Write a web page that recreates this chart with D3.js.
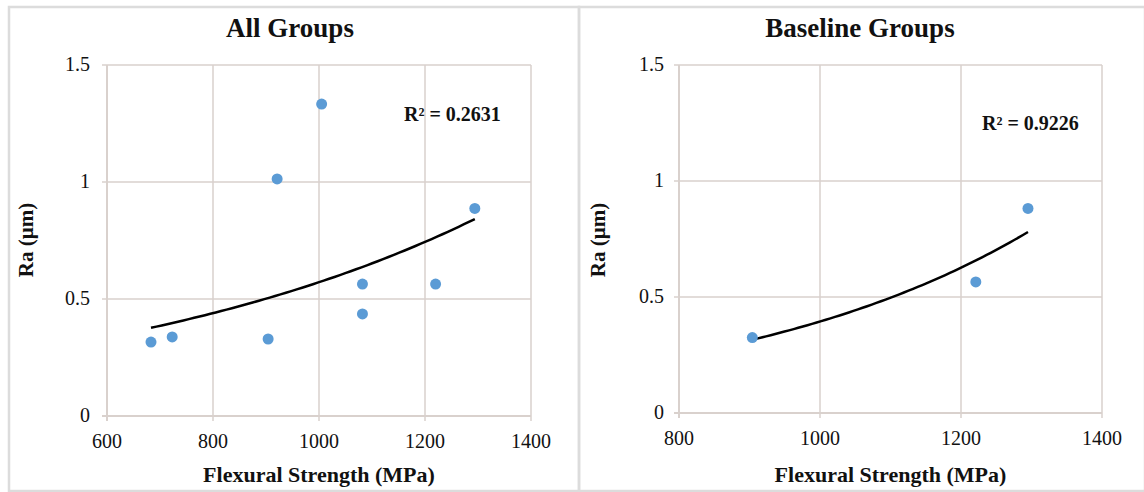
<!DOCTYPE html>
<html>
<head>
<meta charset="utf-8">
<script src="https://cdn.jsdelivr.net/npm/d3@7"></script>
<style>
    body { margin: 0; background: #fff; }
    svg text { font-family: "Liberation Serif", "Times New Roman", serif; fill: #111; }
</style>
</head>
<body>
<div id="chart"></div>
<script>
// Flexural strength (MPa) vs Ra (um), all groups
var allStrength = [683, 723, 904, 921, 1005, 1082, 1082, 1220, 1294];
var allRa = [0.316, 0.338, 0.329, 1.013, 1.333, 0.564, 0.436, 0.564, 0.887];

// baseline groups only
var baseStrength = [904, 1221, 1295];
var baseRa = [0.325, 0.565, 0.882];

var titles = ["All Groups", "Baseline Groups"];
var r2Labels = ["R\u00b2 = 0.2631", "R\u00b2 = 0.9226"];
var allXTicks = [600, 800, 1000, 1200, 1400];
var baseXTicks = [800, 1000, 1200, 1400];
var yTicks = [0, 0.5, 1, 1.5];

var width = 1144, height = 492;
var gridColor = "#d9d1cd";
var dotColor = "#5b9bd5";

var svg = d3.select("#chart").append("svg")
    .attr("width", width).attr("height", height);

// outer frames
svg.append("rect").attr("x", 9).attr("y", 7).attr("width", 570).attr("height", 484)
    .attr("fill", "none").attr("stroke", "#dcdcdc").attr("stroke-width", 2.5);
svg.append("rect").attr("x", 579).attr("y", 7).attr("width", 566).attr("height", 484)
    .attr("fill", "none").attr("stroke", "#dcdcdc").attr("stroke-width", 2.5);

var panels = [
    {xs: allStrength, ys: allRa, xTicks: allXTicks, xDomain: [600, 1400], xRange: [107, 531],
     yRange: [416, 65], titleX: 290, yLabelX: 26, tickRight: 90, r2X: 404, r2Y: 121},
    {xs: baseStrength, ys: baseRa, xTicks: baseXTicks, xDomain: [800, 1400], xRange: [679, 1102],
     yRange: [413, 65], titleX: 860, yLabelX: 598, tickRight: 664, r2X: 982, r2Y: 130}
];

// Excel style exponential trendline: least squares on ln(y)
function expFit(xs, ys) {
    var ly = ys.map(function (v) { return Math.log(v); });
    var mx = d3.mean(xs), my = d3.mean(ly);
    var sxy = d3.sum(xs, function (v, i) { return (v - mx) * (ly[i] - my); });
    var sxx = d3.sum(xs, function (v) { return (v - mx) * (v - mx); });
    var b = sxy / sxx;
    var a = Math.exp(my - b * mx);
    return function (x) { return a * Math.exp(b * x); };
}

panels.forEach(function (p, idx) {
    var x = d3.scaleLinear().domain(p.xDomain).range(p.xRange);
    var y = d3.scaleLinear().domain([0, 1.5]).range(p.yRange);
    var g = svg.append("g");

    // gridlines
    g.selectAll("line.vgrid").data(p.xTicks).enter().append("line")
        .attr("x1", function (d) { return x(d); }).attr("x2", function (d) { return x(d); })
        .attr("y1", y(1.5)).attr("y2", y(0) + 5)
        .attr("stroke", gridColor).attr("stroke-width", function (d, i) { return i === 0 ? 2 : 1.5; });
    g.selectAll("line.hgrid").data(yTicks).enter().append("line")
        .attr("x1", x.range()[0] - 5).attr("x2", x.range()[1])
        .attr("y1", function (d) { return y(d); }).attr("y2", function (d) { return y(d); })
        .attr("stroke", gridColor).attr("stroke-width", function (d, i) { return i === 0 ? 2 : 1.5; });

    // tick labels
    g.selectAll("text.xt").data(p.xTicks).enter().append("text")
        .attr("x", function (d) { return x(d); }).attr("y", y(0) + 32)
        .attr("text-anchor", "middle").attr("font-size", 20)
        .text(function (d) { return d; });
    g.selectAll("text.yt").data(yTicks).enter().append("text")
        .attr("x", p.tickRight).attr("y", function (d) { return y(d) + 6; })
        .attr("text-anchor", "end").attr("font-size", 20)
        .text(function (d) { return d; });

    // titles
    g.append("text").attr("x", p.titleX).attr("y", 37)
        .attr("text-anchor", "middle").attr("font-size", 27).attr("font-weight", "bold")
        .text(titles[idx]);
    g.append("text").attr("x", (x.range()[0] + x.range()[1]) / 2).attr("y", 482)
        .attr("text-anchor", "middle").attr("font-size", 22).attr("font-weight", "bold")
        .text("Flexural Strength (MPa)");
    g.append("text")
        .attr("transform", "translate(" + (p.yLabelX + 7) + "," + 240 + ") rotate(-90)")
        .attr("text-anchor", "middle").attr("font-size", 21).attr("font-weight", "bold")
        .text("Ra (\u00b5m)");

    // trendline
    var f = expFit(p.xs, p.ys);
    var ext = d3.extent(p.xs);
    var samples = d3.range(0, 61).map(function (i) { return ext[0] + (ext[1] - ext[0]) * i / 60; });
    g.append("path").datum(samples)
        .attr("fill", "none").attr("stroke", "#000").attr("stroke-width", 2.5)
        .attr("d", d3.line().x(function (d) { return x(d); }).y(function (d) { return y(f(d)); }));

    // points
    g.selectAll("circle").data(p.xs).enter().append("circle")
        .attr("cx", function (d) { return x(d); })
        .attr("cy", function (d, i) { return y(p.ys[i]); })
        .attr("r", 5.5).attr("fill", dotColor);

    // R squared label
    g.append("text").attr("x", p.r2X).attr("y", p.r2Y)
        .attr("font-size", 20).attr("font-weight", "bold")
        .text(r2Labels[idx]);
});
</script>
</body>
</html>
